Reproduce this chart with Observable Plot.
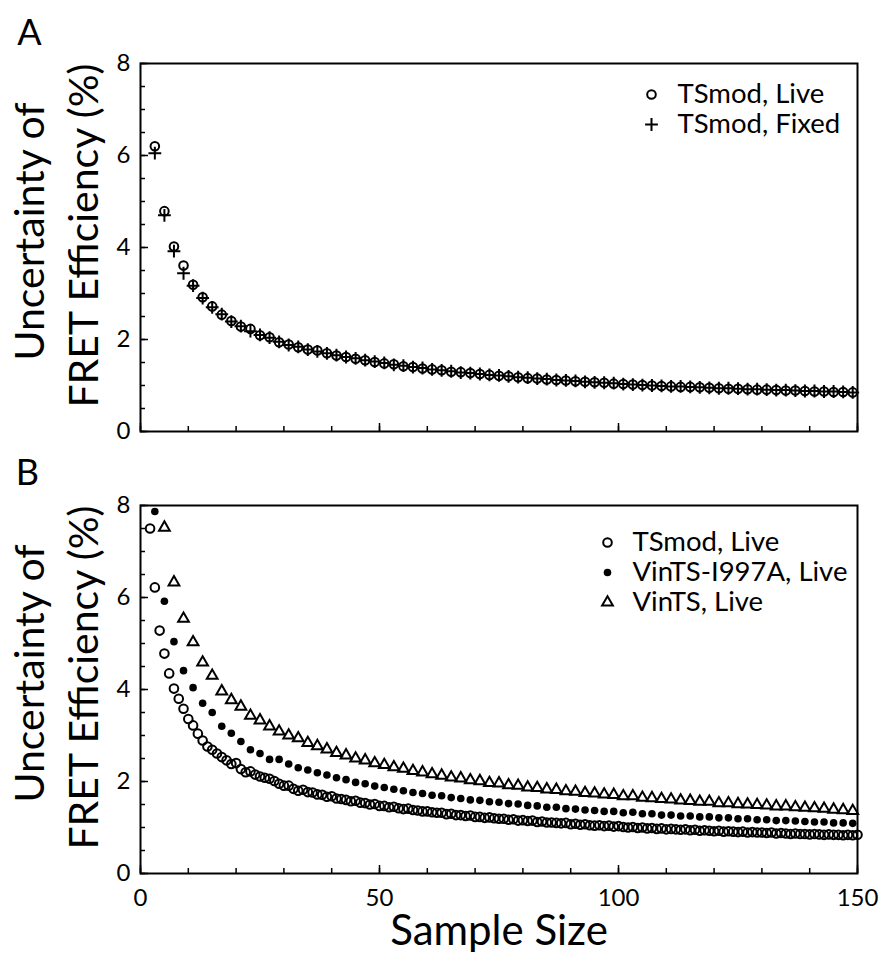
<!DOCTYPE html>
<html>
<head>
<meta charset="utf-8">
<script src="https://cdn.jsdelivr.net/npm/d3@7"></script>
<script src="https://cdn.jsdelivr.net/npm/@observablehq/plot@0.6"></script>
<style>
  body { margin: 0; background: #fff; }
  #chart svg { display: block; }
</style>
</head>
<body>
<div id="chart"></div>
<script>
// ---------- Data ----------
// Panel A: sample sizes 3,5,...,149
const sizesA = d3.range(3, 150, 2);
const tsmodLiveA = [6.20, 4.79, 4.02, 3.61, 3.19, 2.92, 2.72, 2.54, 2.40, 2.28,
  2.23, 2.09, 2.05, 1.94, 1.89, 1.83, 1.78, 1.76, 1.70, 1.65,
  1.62, 1.58, 1.55, 1.51, 1.48, 1.46, 1.42, 1.40, 1.37, 1.35,
  1.33, 1.30, 1.29, 1.27, 1.25, 1.23, 1.21, 1.20, 1.18, 1.16,
  1.15, 1.13, 1.12, 1.11, 1.09, 1.08, 1.07, 1.06, 1.04, 1.03,
  1.02, 1.01, 1.00, 0.99, 0.98, 0.97, 0.97, 0.96, 0.95, 0.94,
  0.93, 0.93, 0.92, 0.91, 0.91, 0.90, 0.89, 0.89, 0.88, 0.87,
  0.87, 0.86, 0.86, 0.85];
const tsmodFixedA = [6.05, 4.70, 3.92, 3.44, 3.17, 2.90, 2.70, 2.55, 2.39, 2.29,
  2.18, 2.10, 2.04, 1.95, 1.88, 1.84, 1.78, 1.74, 1.70, 1.66,
  1.62, 1.59, 1.55, 1.52, 1.49, 1.45, 1.43, 1.40, 1.38, 1.35,
  1.33, 1.31, 1.28, 1.27, 1.25, 1.23, 1.22, 1.20, 1.18, 1.17,
  1.15, 1.14, 1.12, 1.11, 1.10, 1.08, 1.07, 1.06, 1.05, 1.03,
  1.02, 1.01, 1.00, 0.99, 0.98, 0.98, 0.97, 0.96, 0.95, 0.94,
  0.94, 0.93, 0.92, 0.92, 0.91, 0.90, 0.90, 0.89, 0.88, 0.88,
  0.87, 0.87, 0.86, 0.85];

// Panel B
const sizesTsmodB = d3.range(2, 151, 1);   // 2..150
const tsmodLiveB = [7.50, 6.22, 5.28, 4.78, 4.35, 4.02, 3.80, 3.58, 3.36, 3.22,
  3.04, 2.89, 2.76, 2.69, 2.61, 2.53, 2.46, 2.38, 2.40, 2.27,
  2.20, 2.22, 2.15, 2.11, 2.08, 2.06, 2.01, 1.95, 1.91, 1.91,
  1.84, 1.80, 1.82, 1.77, 1.76, 1.72, 1.71, 1.67, 1.68, 1.63,
  1.62, 1.60, 1.57, 1.58, 1.54, 1.53, 1.50, 1.51, 1.47, 1.47,
  1.44, 1.45, 1.42, 1.40, 1.41, 1.38, 1.37, 1.35, 1.35, 1.33,
  1.32, 1.32, 1.29, 1.30, 1.27, 1.27, 1.25, 1.26, 1.23, 1.23,
  1.21, 1.22, 1.20, 1.19, 1.19, 1.17, 1.18, 1.15, 1.16, 1.14,
  1.15, 1.12, 1.13, 1.11, 1.11, 1.10, 1.09, 1.10, 1.07, 1.08,
  1.06, 1.07, 1.05, 1.04, 1.05, 1.03, 1.04, 1.02, 1.03, 1.01,
  1.00, 1.01, 0.99, 1.00, 0.98, 0.99, 0.97, 0.98, 0.96, 0.97,
  0.96, 0.95, 0.96, 0.94, 0.95, 0.93, 0.94, 0.93, 0.92, 0.93,
  0.91, 0.92, 0.91, 0.90, 0.91, 0.89, 0.90, 0.89, 0.89, 0.88,
  0.89, 0.87, 0.88, 0.87, 0.86, 0.87, 0.86, 0.86, 0.85, 0.86,
  0.85, 0.84, 0.85, 0.84, 0.84, 0.83, 0.84, 0.83, 0.84];
const sizesI997A = d3.range(3, 150, 2);    // 3..149
const vinI997A = [7.87, 5.92, 5.04, 4.41, 4.04, 3.70, 3.50, 3.20, 3.05, 2.87,
  2.69, 2.61, 2.48, 2.48, 2.38, 2.30, 2.25, 2.19, 2.14, 2.08,
  2.04, 1.98, 1.95, 1.90, 1.87, 1.83, 1.80, 1.76, 1.74, 1.70,
  1.69, 1.65, 1.63, 1.60, 1.59, 1.56, 1.55, 1.52, 1.51, 1.48,
  1.47, 1.44, 1.44, 1.41, 1.40, 1.38, 1.37, 1.35, 1.35, 1.32,
  1.33, 1.30, 1.30, 1.27, 1.27, 1.25, 1.25, 1.23, 1.23, 1.21,
  1.21, 1.19, 1.19, 1.17, 1.17, 1.15, 1.15, 1.14, 1.13, 1.12,
  1.12, 1.10, 1.10, 1.09];
const sizesVinTS = d3.range(5, 150, 2);    // 5..149
const vinTS = [7.52, 6.33, 5.54, 5.03, 4.59, 4.30, 3.96, 3.77, 3.63, 3.43,
  3.33, 3.20, 3.09, 3.00, 2.94, 2.84, 2.77, 2.70, 2.62, 2.57,
  2.50, 2.46, 2.40, 2.36, 2.31, 2.28, 2.23, 2.20, 2.16, 2.13,
  2.09, 2.07, 2.03, 2.01, 1.97, 1.96, 1.92, 1.91, 1.87, 1.86,
  1.83, 1.82, 1.79, 1.78, 1.75, 1.74, 1.72, 1.71, 1.68, 1.68,
  1.65, 1.64, 1.62, 1.61, 1.59, 1.58, 1.56, 1.56, 1.53, 1.53,
  1.51, 1.50, 1.49, 1.48, 1.46, 1.46, 1.44, 1.43, 1.42, 1.41,
  1.39, 1.38, 1.36];

// Axis ticks
const xMinorTicks = d3.range(0, 151, 10);
const xMajorTicks = [0, 50, 100, 150];
const xTickLabels = [0, 50, 100, 150];
const yMinorTicks = d3.range(0, 8.01, 0.5);
const yMajorTicks = [0, 2, 4, 6, 8];
const yTickLabels = [0, 2, 4, 6, 8];

const legendA = ["TSmod, Live", "TSmod, Fixed"];
const legendB = ["TSmod, Live", "VinTS-I997A, Live", "VinTS, Live"];
const yLabelLines = ["Uncertainty of", "FRET Efficiency (%)"];
const xLabel = "Sample Size";

// ---------- Layout ----------
const W = 880, ML = 140, MR = 23, FH = 368;
const FW = W - ML - MR;
const MT_A = 63, MB_A = 15, H_A = MT_A + FH + MB_A;      // frame A: y 63..431
const MT_B = 505 - H_A, H_B = 954 - H_A, MB_B = H_B - MT_B - FH; // frame B: y 505..873
const font = "Lato, 'Open Sans', sans-serif";

const zip = (xs, ys) => ys.map((v, i) => ({x: xs[i], y: v}));

const sym = {
  circle: {symbol: "circle", r: 4.3, fill: "none", stroke: "black", strokeWidth: 2},
  plus: {symbol: "plus", r: 4.2, fill: "none", stroke: "black", strokeWidth: 2},
  dot: {symbol: "circle", r: 3.8, fill: "black", stroke: "none"},
  triangle: {symbol: "triangle", r: 4, fill: "none", stroke: "black", strokeWidth: 2}
};

const center = {textAnchor: "middle", lineAnchor: "middle"};

function commonMarks(panelLetter, letterDx, letterDy) {
  return [
    Plot.tickX(xMinorTicks, {x: d => d, insetTop: FH - 5, strokeWidth: 1.5}),
    Plot.tickX(xMajorTicks, {x: d => d, insetTop: FH - 8, strokeWidth: 1.5}),
    Plot.tickY(yMinorTicks, {y: d => d, insetRight: FW - 5, strokeWidth: 1.5}),
    Plot.tickY(yMajorTicks, {y: d => d, insetRight: FW - 8, strokeWidth: 1.5}),
    Plot.axisY({ticks: yTickLabels, tickSize: 0, tickPadding: 10, fontSize: 24, label: null}),
    Plot.text([yLabelLines[0]], {text: d => d, frameAnchor: "left", rotate: -90, dx: -110, dy: -16, fontSize: 41, ...center}),
    Plot.text([yLabelLines[1]], {text: d => d, frameAnchor: "left", rotate: -90, dx: -56, dy: -12, fontSize: 41, ...center}),
    Plot.text([panelLetter], {text: d => d, frameAnchor: "top-left", dx: letterDx, dy: letterDy, fontSize: 36, ...center}),
    Plot.frame({stroke: "black", strokeWidth: 2})
  ];
}

function legendMarks(labels, symbols, dxMarker, dxText, dy0) {
  const marks = [];
  labels.forEach((lab, i) => {
    marks.push(Plot.dot([lab], {frameAnchor: "top-right", dx: dxMarker, dy: dy0 + 30 * i, ...sym[symbols[i]]}));
    marks.push(Plot.text([lab], {text: d => d, frameAnchor: "top-right", dx: dxText, dy: dy0 + 30 * i, textAnchor: "start", lineAnchor: "middle", fontSize: 27.5}));
  });
  return marks;
}

const plotA = Plot.plot({
  width: W, height: H_A,
  marginLeft: ML, marginRight: MR, marginTop: MT_A, marginBottom: MB_A,
  style: {fontFamily: font, color: "black", background: "white"},
  x: {domain: [0, 150], axis: null},
  y: {domain: [0, 8]},
  marks: [
    ...commonMarks("A", -111, -30),
    Plot.dot(zip(sizesA, tsmodFixedA), {x: "x", y: "y", ...sym.plus}),
    Plot.dot(zip(sizesA, tsmodLiveA), {x: "x", y: "y", ...sym.circle}),
    ...legendMarks(legendA, ["circle", "plus"], -206, -180, 31)
  ]
});

const plotB = Plot.plot({
  width: W, height: H_B,
  marginLeft: ML, marginRight: MR, marginTop: MT_B, marginBottom: MB_B,
  style: {fontFamily: font, color: "black", background: "white"},
  x: {domain: [0, 150]},
  y: {domain: [0, 8]},
  marks: [
    ...commonMarks("B", -113, -32),
    Plot.axisX({ticks: xTickLabels, tickSize: 0, tickPadding: 15, fontSize: 24, label: null}),
    Plot.text([xLabel], {text: d => d, frameAnchor: "bottom", dy: 58, fontSize: 42, ...center}),
    Plot.dot(zip(sizesTsmodB, tsmodLiveB), {x: "x", y: "y", ...sym.circle}),
    Plot.dot(zip(sizesI997A, vinI997A), {x: "x", y: "y", ...sym.dot}),
    Plot.dot(zip(sizesVinTS, vinTS), {x: "x", y: "y", ...sym.triangle}),
    ...legendMarks(legendB, ["circle", "dot", "triangle"], -250, -225, 37)
  ]
});

const chart = document.getElementById("chart");
chart.appendChild(plotA);
chart.appendChild(plotB);
</script>
</body>
</html>
